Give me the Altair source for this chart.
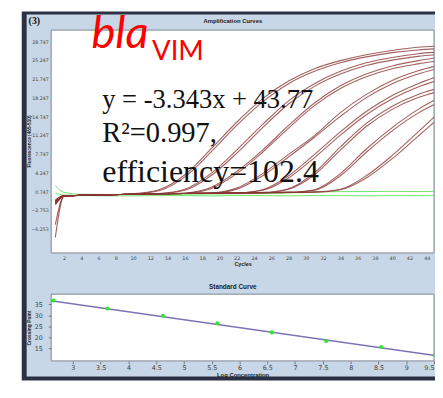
import altair as alt
import pandas as pd

# ---------------- data ----------------
CYCLES = [1, 2, 4, 7, 10, 13, 16, 19, 22, 25, 28, 31, 34, 37, 40, 43, 45]

POSITIVE = {
    "A1": [-1.0, 0.1, 0.15, 0.25, 0.45, 1.2, 4.0, 8.8, 13.8, 18.2, 21.5, 23.8, 25.3, 26.4, 27.2, 27.8, 28.0],
    "A2": [-7.7, 0.0, 0.15, 0.25, 0.4, 1.0, 3.6, 8.2, 13.2, 17.6, 21.0, 23.3, 24.9, 26.0, 26.8, 27.3, 27.5],
    "B1": [-1.2, 0.1, 0.15, 0.25, 0.35, 0.5, 1.3, 4.2, 8.6, 13.4, 17.8, 21.0, 23.3, 24.9, 25.9, 26.6, 26.9],
    "B2": [-5.3, 0.0, 0.15, 0.25, 0.35, 0.45, 1.1, 3.8, 8.0, 12.8, 17.2, 20.5, 22.8, 24.4, 25.4, 26.1, 26.4],
    "C1": [-0.9, 0.1, 0.15, 0.25, 0.35, 0.45, 0.6, 1.6, 4.6, 8.6, 13.2, 17.4, 20.6, 22.8, 24.3, 25.3, 25.8],
    "C2": [-1.5, 0.0, 0.15, 0.25, 0.35, 0.45, 0.55, 1.4, 4.2, 8.2, 12.7, 16.9, 20.1, 22.3, 23.8, 24.7, 25.2],
    "D1": [-1.0, 0.1, 0.15, 0.25, 0.35, 0.45, 0.5, 0.6, 1.5, 4.2, 7.8, 11.3, 15.6, 19.0, 21.6, 23.4, 24.3],
    "D2": [-1.3, 0.0, 0.15, 0.25, 0.35, 0.45, 0.5, 0.55, 1.3, 3.8, 7.3, 11.0, 14.9, 18.4, 21.0, 22.8, 23.7],
    "E1": [-0.8, 0.1, 0.15, 0.25, 0.35, 0.45, 0.5, 0.55, 0.6, 1.2, 3.8, 7.8, 12.0, 15.8, 18.8, 21.0, 22.2],
    "E2": [-1.6, 0.0, 0.15, 0.25, 0.35, 0.45, 0.5, 0.55, 0.6, 1.1, 3.4, 7.2, 11.4, 15.2, 18.2, 20.4, 21.5],
    "F1": [-1.1, 0.1, 0.15, 0.25, 0.35, 0.45, 0.5, 0.55, 0.6, 0.7, 1.4, 4.4, 9.2, 13.6, 16.8, 19.0, 20.0],
    "F2": [-0.9, 0.0, 0.15, 0.25, 0.35, 0.45, 0.5, 0.55, 0.6, 0.65, 1.3, 4.0, 8.6, 13.0, 16.2, 18.4, 19.4],
    "G1": [-1.2, 0.1, 0.15, 0.25, 0.35, 0.45, 0.5, 0.55, 0.6, 0.65, 0.7, 1.2, 4.2, 8.8, 12.8, 16.2, 18.0],
    "G2": [-1.0, 0.0, 0.15, 0.25, 0.35, 0.45, 0.5, 0.55, 0.6, 0.65, 0.7, 1.1, 3.8, 8.2, 12.2, 15.5, 17.2],
    "H1": [-1.4, 0.1, 0.15, 0.25, 0.35, 0.45, 0.5, 0.55, 0.6, 0.65, 0.7, 0.8, 1.3, 3.8, 7.6, 12.0, 15.0],
    "H2": [-0.7, 0.0, 0.15, 0.25, 0.35, 0.45, 0.5, 0.55, 0.6, 0.65, 0.7, 0.75, 1.2, 3.4, 7.0, 11.2, 14.0],
}
NEGATIVE = {
    "N1": [2.0, 0.7, 0.35, 0.3, 0.3, 0.3, 0.35, 0.4, 0.45, 0.5, 0.6, 0.75, 0.85, 0.85, 0.9, 0.85, 0.9],
    "N2": [0.6, 0.2, 0.1, 0.05, 0.05, 0.1, 0.1, 0.05, 0.1, 0.1, 0.05, 0.1, 0.1, 0.05, 0.1, 0.1, 0.1],
}
AMP_X_TICKS = list(range(2, 45, 2))
AMP_Y_TICKS = [-6.253, -2.753, 0.747, 4.247, 7.747, 11.247, 14.747, 18.247, 21.747, 25.247, 28.747]

LOG_CONC = [2.65, 3.62, 4.62, 5.60, 6.58, 7.56, 8.55, 9.51]
CROSSING = [36.7, 33.1, 29.8, 26.4, 22.3, 18.4, 15.7, 12.0]
FIT_X = [2.56, 9.52]
FIT_Y = [36.8, 11.8]
STD_X_TICKS = [3, 3.5, 4, 4.5, 5, 5.5, 6, 6.5, 7, 7.5, 8, 8.5, 9, 9.5]
STD_Y_TICKS = [15, 20, 25, 30, 35]

# ---------------- tables ----------------
def long_table(curves):
    rows = []
    for name, vals in curves.items():
        for c, v in zip(CYCLES, vals):
            rows.append({"curve": name, "cycle": c, "fluor": v})
    return pd.DataFrame(rows)

pos_df = long_table(POSITIVE)
neg_df = long_table(NEGATIVE)
std_df = pd.DataFrame({"logc": LOG_CONC, "cp": CROSSING})
fit_df = pd.DataFrame({"logc": FIT_X, "cp": FIT_Y})
one = pd.DataFrame({"k": [0]})

W1, H1 = 390, 227
W2, H2 = 390, 68

DARK = "#2c3044"
PANEL = "#c7d7e8"
BORDER = "#80868f"

# ---------------- amplification chart ----------------
xs = alt.Scale(domain=[0.52, 44.84], nice=False, zero=False)
ys = alt.Scale(domain=[-10.6, 31.0], nice=False, zero=False)
ax_x = alt.Axis(values=AMP_X_TICKS, tickCount=100, format="d", title="Cycles",
                labelFontSize=5, labelColor="#444", ticks=False, labelPadding=2.5,
                labelOverlap=False, titleFontSize=5.5, titleFontWeight="bold",
                titlePadding=1.5, titleColor="#222", zindex=2)
ax_y = alt.Axis(values=AMP_Y_TICKS, tickCount=100, format=".3f",
                title="Fluorescence (465-510)", labelFontSize=4.8, labelColor="#444",
                ticks=False, labelPadding=3, labelOverlap=False, titleFontSize=4.8,
                titleFontWeight="bold", titleColor="#222", titleX=-20.5, titleY=113,
                titleBaseline="bottom", zindex=2)

dark = alt.Chart(one).mark_rect(color=DARK).encode(
    x=alt.value(-30), x2=alt.value(391), y=alt.value(-19), y2=alt.value(357))
light = alt.Chart(one).mark_rect(color=PANEL).encode(
    x=alt.value(-25), x2=alt.value(391), y=alt.value(-16), y2=alt.value(353))
white = alt.Chart(one).mark_rect(fill="white", stroke=BORDER, strokeWidth=1).encode(
    x=alt.value(0), x2=alt.value(W1), y=alt.value(0), y2=alt.value(H1))

neg = alt.Chart(neg_df).mark_line(color="#4fe04f", strokeWidth=1, opacity=0.85,
                                  interpolate="monotone", clip=True).encode(
    x=alt.X("cycle:Q", scale=xs, axis=ax_x),
    y=alt.Y("fluor:Q", scale=ys, axis=ax_y),
    detail="curve:N")
pos = alt.Chart(pos_df).mark_line(color="#8b3434", strokeWidth=1.1, opacity=0.78,
                                  interpolate="monotone", clip=True).encode(
    x=alt.X("cycle:Q", scale=xs, axis=ax_x),
    y=alt.Y("fluor:Q", scale=ys, axis=ax_y),
    detail="curve:N")

def note(txt, cx, cy, **kw):
    return alt.Chart(one).mark_text(text=txt, align="left", baseline="alphabetic", **kw).encode(
        x=alt.datum(cx), y=alt.datum(cy))

bla = note("bla", 5.18, 27.7, font="Lato", fontStyle="italic", fontSize=46, color="#ff0000")
vim = note("VIM", 12.2, 25.5, font="Lato", fontSize=28, color="#ff0000")
eq = note("y = -3.343x + 43.77", 6.43, 16.52, font="Liberation Serif", fontSize=27, color="#111")
r2 = note("R²=0.997,", 6.43, 10.11, font="Liberation Serif", fontSize=29, color="#111")
eff = note("efficiency=102.4", 6.43, 2.6, font="Liberation Serif", fontSize=32.5, color="#111")
panel_no = alt.Chart(one).mark_text(text="(3)", align="left", baseline="middle",
                                    font="Liberation Serif", fontWeight="bold",
                                    fontSize=10, color="#111").encode(
    x=alt.value(-23), y=alt.value(-9))
amp_title = alt.Chart(one).mark_text(text="Amplification Curves", align="center",
                                     baseline="middle", font="Liberation Sans",
                                     fontWeight="bold", fontSize=6, color="#222").encode(
    x=alt.value(185), y=alt.value(-9))

amp = alt.layer(dark, light, white, neg, pos, eq, r2, eff, bla, vim, panel_no,
                amp_title).properties(width=W1, height=H1)

# ---------------- standard curve ----------------
xs2 = alt.Scale(domain=[2.61, 9.5], nice=False, zero=False)
ys2 = alt.Scale(domain=[9.4, 39.6], nice=False, zero=False)
ax_x2 = alt.Axis(values=STD_X_TICKS, tickCount=100, format=".1~f", title="Log Concentration",
                 labelFontSize=6.5, labelColor="#444", tickSize=3, tickColor="#777",
                 labelPadding=1, labelFlush=True, labelOverlap=False, titleFontSize=6,
                 titleFontWeight="bold", titlePadding=0, titleColor="#222", zindex=2)
ax_y2 = alt.Axis(values=STD_Y_TICKS, tickCount=100, format="d", title="Crossing Point",
                 labelFontSize=6.5, labelColor="#444", tickSize=3, tickColor="#777",
                 labelPadding=6, labelOverlap=False, titleFontSize=5, titleFontWeight="bold",
                 titleColor="#222", titleX=-20, titleY=34, titleBaseline="bottom", zindex=2)

bwhite = alt.Chart(one).mark_rect(fill="white", stroke=BORDER, strokeWidth=1).encode(
    x=alt.value(0), x2=alt.value(W2), y=alt.value(0), y2=alt.value(H2))
fit = alt.Chart(fit_df).mark_line(color="#7a72b6", strokeWidth=1.5, clip=True).encode(
    x=alt.X("logc:Q", scale=xs2, axis=ax_x2),
    y=alt.Y("cp:Q", scale=ys2, axis=ax_y2))
pts = alt.Chart(std_df).mark_circle(color="#30e630", size=18, opacity=1, clip=True).encode(
    x=alt.X("logc:Q", scale=xs2, axis=ax_x2),
    y=alt.Y("cp:Q", scale=ys2, axis=ax_y2))
std_title = alt.Chart(one).mark_text(text="Standard Curve", align="center",
                                     baseline="middle", font="Liberation Sans",
                                     fontWeight="bold", fontSize=6.5, color="#222").encode(
    x=alt.value(185), y=alt.value(-7))

std = alt.layer(bwhite, fit, pts, std_title).properties(width=W2, height=H2)

chart = alt.vconcat(amp, std, spacing=42, bounds="flush").properties(
    padding={"left": 14, "top": 0, "right": 0, "bottom": 0}
).configure_view(strokeOpacity=0).configure_axis(
    grid=False, domain=False, labelFont="DejaVu Sans", titleFont="Liberation Sans"
)

chart.save("out.html", embed_options={"renderer": "svg", "actions": False})
